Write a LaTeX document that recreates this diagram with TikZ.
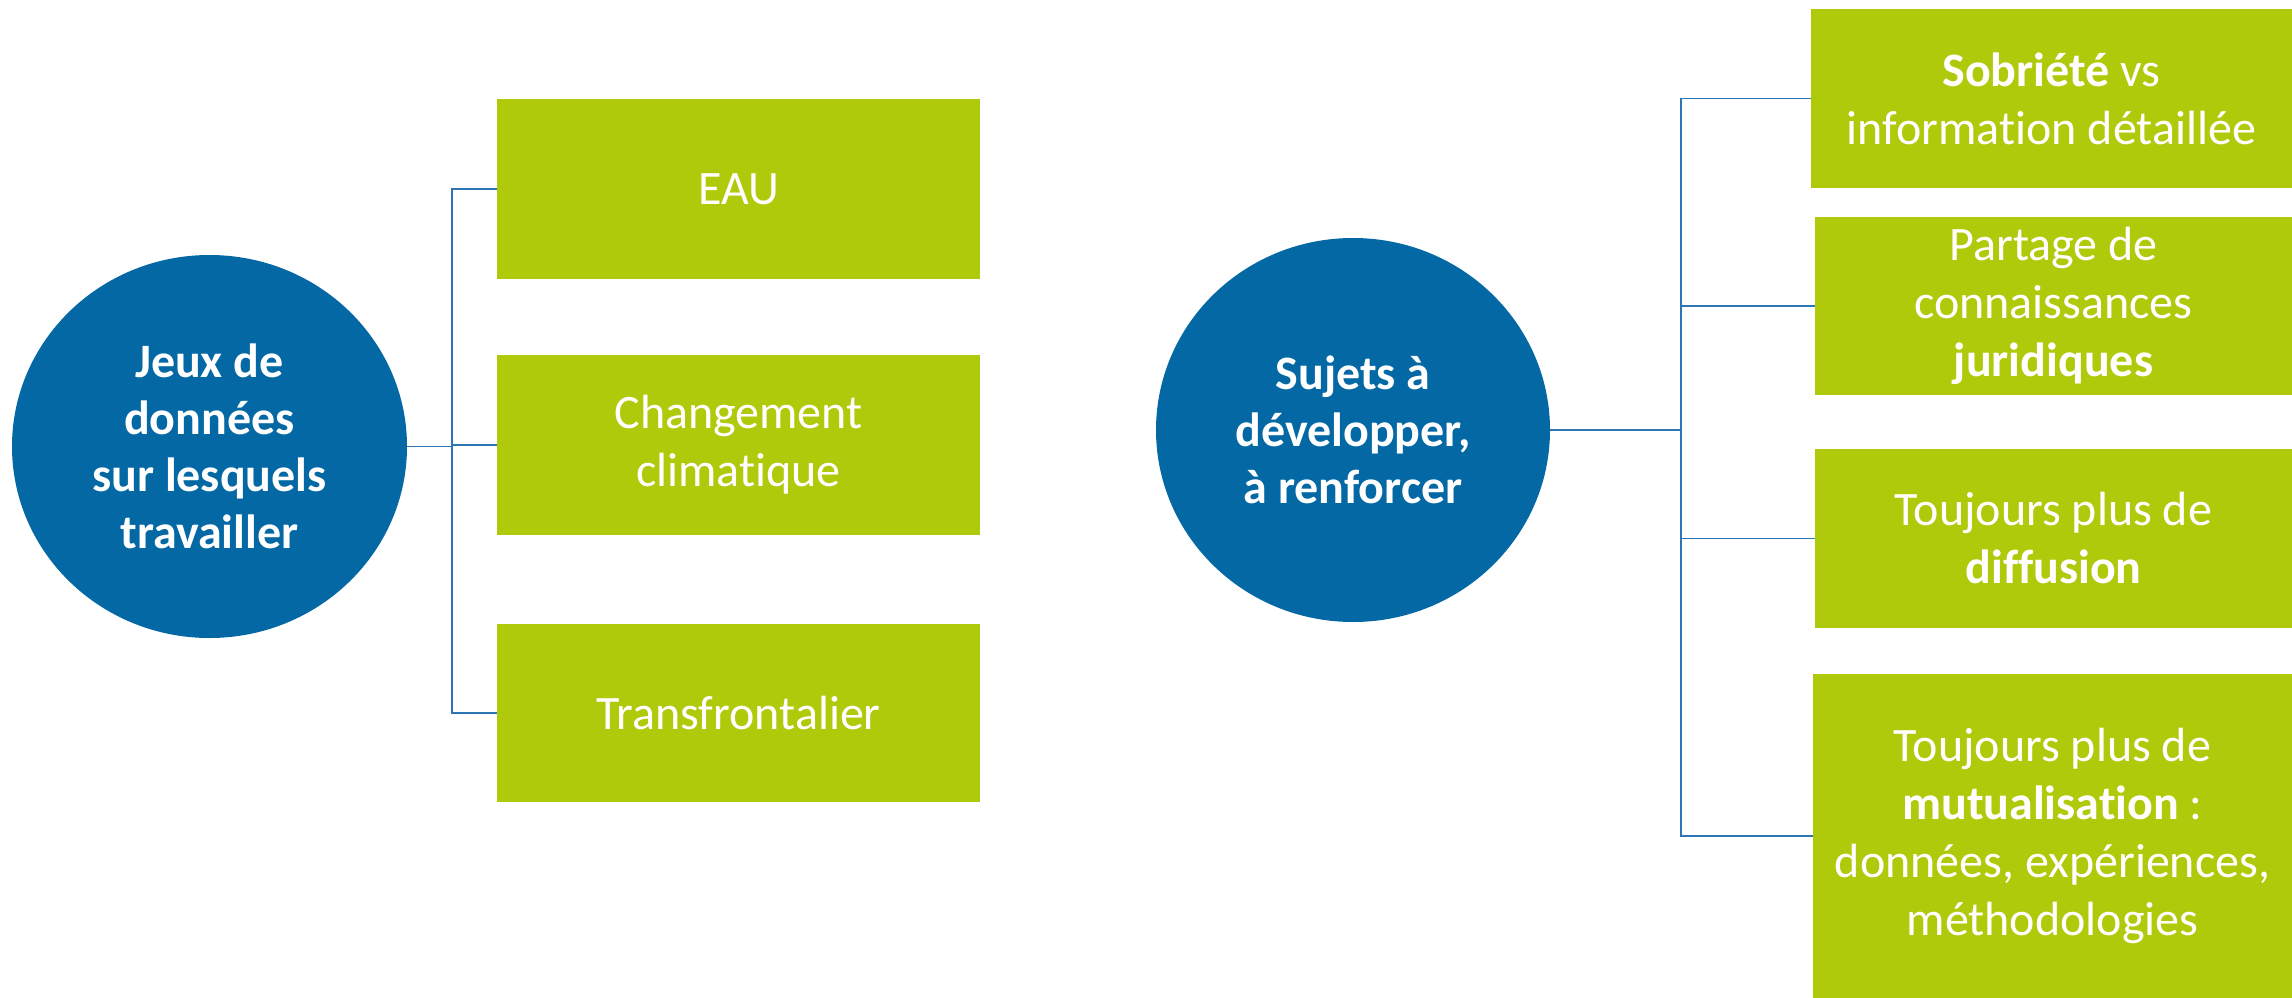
\documentclass[tikz,border=0pt]{standalone}
\usepackage{fontspec}
\setmainfont{Carlito}[Ligatures={NoCommon}]
\usetikzlibrary{shapes.geometric}
\definecolor{circblue}{RGB}{3,104,164}
\definecolor{boxgreen}{RGB}{175,202,11}
\definecolor{linkblue}{RGB}{46,117,182}
\tikzset{
  txt/.style={font=\fontsize{48}{58}\selectfont, text=white, align=center},
  hub/.style={ellipse, fill=circblue, inner sep=0pt, txt, font=\fontsize{48}{57}\selectfont\bfseries},
  leaf/.style={rectangle, fill=boxgreen, inner sep=0pt, txt},
  conn/.style={draw=linkblue, line width=1.8pt}
}
\begin{document}
\begin{tikzpicture}[x=1pt,y=-1pt]
\useasboundingbox (0,0) rectangle (2292,998);
% hubs
\node[hub, minimum width=395pt, minimum height=383pt] (c1) at (209.5,446.5) {Jeux de\\données\\sur lesquels\\travailler};
\node[hub, minimum width=394pt, minimum height=384pt] (c2) at (1353,430) {Sujets à\\développer,\\à renforcer};
% left boxes
\node[leaf, minimum width=483pt, minimum height=180pt] (b1) at (738.5,189) {EAU};
\node[leaf, minimum width=483pt, minimum height=180pt] (b2) at (738.5,445) {Changement\\climatique};
\node[leaf, minimum width=483pt, minimum height=178pt] (b3) at (738.5,713) {Transfrontalier};
% right boxes
\node[leaf, minimum width=481pt, minimum height=179pt] (r1) at (2051.5,98.5) {\textbf{Sobriété} vs\\information détaillée};
\node[leaf, minimum width=477pt, minimum height=178pt] (r2) at (2053.5,306) {Partage de\\connaissances\\\textbf{juridiques}};
\node[leaf, minimum width=477pt, minimum height=179pt] (r3) at (2053.5,538.5) {Toujours plus de\\\textbf{diffusion}};
\node[leaf, minimum width=479pt, minimum height=324pt] (r4) at (2052.5,836) {Toujours plus de\\\textbf{mutualisation} :\\données, expériences,\\méthodologies};
% junctions
\coordinate (j1) at (452,446.5);
\coordinate (j2) at (1681,430);
% left connectors
\draw[conn] (c1.east) -- (j1);
\draw[conn] (b1.west) -- (b1.west -| j1) -- (b3.west -| j1) -- (b3.west);
\draw[conn] (b2.west -| j1) -- (b2.west);
% right connectors
\draw[conn] (c2.east) -- (j2);
\draw[conn] (r1.west) -- (r1.west -| j2) -- (r4.west -| j2) -- (r4.west);
\draw[conn] (r2.west -| j2) -- (r2.west);
\draw[conn] (r3.west -| j2) -- (r3.west);
\end{tikzpicture}
\end{document}
